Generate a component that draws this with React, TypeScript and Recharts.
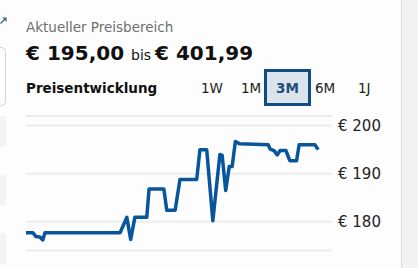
import { LineChart, Line, XAxis, YAxis, CartesianGrid } from "recharts"

// day index (x) and price in €
const days = [
  0, 2.1, 3.1, 4.3, 5.2, 5.9, 29.2, 31.3, 32.5, 33.8, 37.5, 38.2, 42.8, 43.7, 46.3, 47.8,
  53, 54, 56.1, 58, 60.2, 60.9, 62, 63.1, 64, 65, 66.4, 75.2, 75.8, 77, 78, 78.9, 80.7,
  81.9, 84, 84.8, 89.7, 90.7,
]
const prices = [
  177.7, 177.7, 176.9, 176.8, 176.2, 177.7, 177.7, 180.9, 176.3, 180.9, 180.9, 186.8,
  186.8, 182.4, 182.4, 188.8, 188.8, 195.0, 195.0, 180.2, 194.0, 193.8, 186.5, 191.5,
  191.5, 196.7, 196.2, 196.0, 195.1, 194.8, 193.9, 194.8, 194.8, 192.7, 192.7, 196.0,
  196.0, 195.0,
]
const yTicks = [180, 190, 200]
const ranges = ["1W", "1M", "3M", "6M", "1J"]
const rangeX = [201, 241, 276, 315, 358]
const activeRange = "3M"

const FONT = "'DejaVu Sans', Verdana, sans-serif"
const LINE_COLOR = "#08559b"

const data = days.map((d, i) => ({ day: d, price: prices[i] }))

function Header() {
  return (
    <svg
      width={418}
      height={268}
      style={{ position: "absolute", left: 0, top: 0 }}
      fontFamily={FONT}
    >
      <rect x={0} y={0} width={418} height={268} fill="#fdfdfd" />
      {/* bits of the surrounding page */}
      <path d="M0.5 23.5 L5.5 18.5 M2.5 18 H6 V21.5" stroke="#2b5d8f" strokeWidth={1.2} fill="none" />
      <rect x={-6} y={47.5} width={11.5} height={58} rx={4} fill="none" stroke="#d2d2d2" />
      <rect x={0} y={116} width={6} height={30} fill="#f3f3f3" />
      <rect x={0} y={175} width={6} height={30} fill="#f3f3f3" />
      <rect x={0} y={233} width={6} height={31} fill="#f3f3f3" />
      <rect x={401} y={0} width={1} height={268} fill="#dcdcdc" />
      <rect x={402} y={0} width={16} height={268} fill="#f2f2f2" />

      <text x={26} y={31.5} fontSize={13.5} fill="#6f6f6f">
        Aktueller Preisbereich
      </text>
      <text x={26} y={60} fontSize={20} fontWeight="bold" fill="#111">
        € 195,00
      </text>
      <text x={131} y={60} fontSize={14} fill="#111">
        bis
      </text>
      <text x={155} y={60} fontSize={20} fontWeight="bold" fill="#111">
        € 401,99
      </text>
      <text x={26} y={93} fontSize={13.5} fontWeight="bold" fill="#111">
        Preisentwicklung
      </text>
      <rect x={265.5} y={70.5} width={44} height={34} fill="#dbe4ed" stroke="#0f4c81" strokeWidth={3} />
      {ranges.map((r, i) => (
        <text
          key={r}
          x={rangeX[i]}
          y={93}
          fontSize={13.5}
          fontWeight={r === activeRange ? "bold" : "normal"}
          fill={r === activeRange ? "#1d4f7e" : "#222"}
        >
          {r}
        </text>
      ))}
    </svg>
  )
}

export default function App() {
  return (
    <div style={{ position: "fixed", left: 0, top: 0, width: 418, height: 268, overflow: "hidden" }}>
      <Header />
      <div style={{ position: "absolute", left: 0, top: 0 }}>
        <LineChart
          width={418}
          height={268}
          data={data}
          margin={{ top: 116, right: 0, left: 26, bottom: 17.5 }}
        >
          <CartesianGrid vertical={false} stroke="#ececec" strokeWidth={2} />
          <XAxis dataKey="day" type="number" domain={[0, 95]} hide />
          <YAxis
            orientation="right"
            domain={[174, 202]}
            ticks={yTicks}
            width={86}
            axisLine={false}
            tickLine={false}
            tickMargin={0}
            tickFormatter={(v) => `€ ${v}`}
            tick={{ fontSize: 15, fill: "#222", fontFamily: FONT }}
          />
          <Line
            type="linear"
            dataKey="price"
            stroke={LINE_COLOR}
            strokeWidth={3.5}
            strokeLinejoin="round"
            dot={false}
            isAnimationActive={false}
          />
        </LineChart>
      </div>
    </div>
  )
}
